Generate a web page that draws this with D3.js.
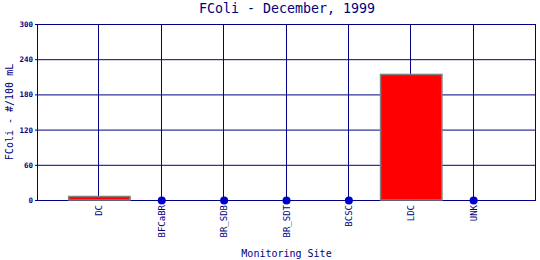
<!DOCTYPE html>
<html>
<head>
<meta charset="utf-8">
<script src="https://cdn.jsdelivr.net/npm/d3@7"></script>
<style>
  body { margin: 0; background: #fff; }
  text { font-family: "DejaVu Sans Mono", monospace; fill: #000080; }
</style>
</head>
<body>
<svg id="chart" width="540" height="260"></svg>
<script>
const SITES = ['DC', 'BFCaBR', 'BR_SDB', 'BR_SDT', 'BCSC', 'LDC', 'UNK'];
const FCOLI = [6, 0, 0, 0, 0, 214, 0];
const Y_TICKS = [0, 60, 120, 180, 240, 300];

const NAVY = '#000080';
const margin = {top: 24, right: 4, bottom: 60, left: 37};
const width = 540, height = 260;

const svg = d3.select('#chart');
const data = SITES.map((s, i) => ({site: s, value: FCOLI[i]}));

const x = d3.scalePoint()
  .domain(SITES)
  .range([margin.left, width - margin.right])
  .padding(1);
const y = d3.scaleLinear()
  .domain([0, 300])
  .range([height - margin.bottom, margin.top]);
const step = x.step();

// horizontal grid
svg.append('g').selectAll('line')
  .data(Y_TICKS)
  .join('line')
    .attr('x1', margin.left - 2)
    .attr('x2', width - margin.right)
    .attr('y1', d => y(d) + 0.5)
    .attr('y2', d => y(d) + 0.5)
    .attr('stroke', NAVY);

// vertical grid at each site + right border
const vx = SITES.map(s => x(s)).concat([width - margin.right]);
svg.append('g').selectAll('line')
  .data(vx)
  .join('line')
    .attr('x1', d => Math.round(d) - 0.5)
    .attr('x2', d => Math.round(d) - 0.5)
    .attr('y1', y(300))
    .attr('y2', y(0))
    .attr('stroke', NAVY);

// left border
svg.append('line')
  .attr('x1', margin.left + 0.5).attr('x2', margin.left + 0.5)
  .attr('y1', y(300)).attr('y2', y(0) + 1)
  .attr('stroke', NAVY);

// y tick labels
svg.append('g').selectAll('text')
  .data(Y_TICKS)
  .join('text')
    .attr('x', margin.left - 4)
    .attr('y', d => y(d) + 3)
    .attr('text-anchor', 'end')
    .attr('font-size', 7.5)
    .attr('font-weight', 'bold')
    .text(d => d);

// bars
svg.append('g').selectAll('rect')
  .data(data.filter(d => d.value > 0))
  .join('rect')
    .attr('x', d => x(d.site) - step / 2 + 0.5)
    .attr('width', step - 1)
    .attr('y', d => y(d.value))
    .attr('height', d => y(0) - y(d.value))
    .attr('fill', '#ff0000')
    .attr('stroke', '#808080')
    .attr('stroke-width', 1.5);

// zero markers
svg.append('g').selectAll('circle')
  .data(data.filter(d => d.value === 0))
  .join('circle')
    .attr('cx', d => x(d.site))
    .attr('cy', y(0) + 0.5)
    .attr('r', 4)
    .attr('fill', '#0000cc');

// x labels
svg.append('g').selectAll('text')
  .data(SITES)
  .join('text')
    .attr('transform', d => `translate(${x(d) + 3},205) rotate(-90)`)
    .attr('text-anchor', 'end')
    .attr('font-size', 9)
    .text(d => d);

// title
svg.append('text')
  .attr('x', 287)
  .attr('y', 13)
  .attr('text-anchor', 'middle')
  .attr('font-size', 13.3)
  .text('FColi - December, 1999');

// axis titles
svg.append('text')
  .attr('transform', `translate(13,${(y(0) + y(300)) / 2}) rotate(-90)`)
  .attr('text-anchor', 'middle')
  .attr('font-size', 10)
  .text('FColi - #/100 mL');

svg.append('text')
  .attr('x', (margin.left + width - margin.right) / 2)
  .attr('y', 257)
  .attr('text-anchor', 'middle')
  .attr('font-size', 10)
  .text('Monitoring Site');
</script>
</body>
</html>
